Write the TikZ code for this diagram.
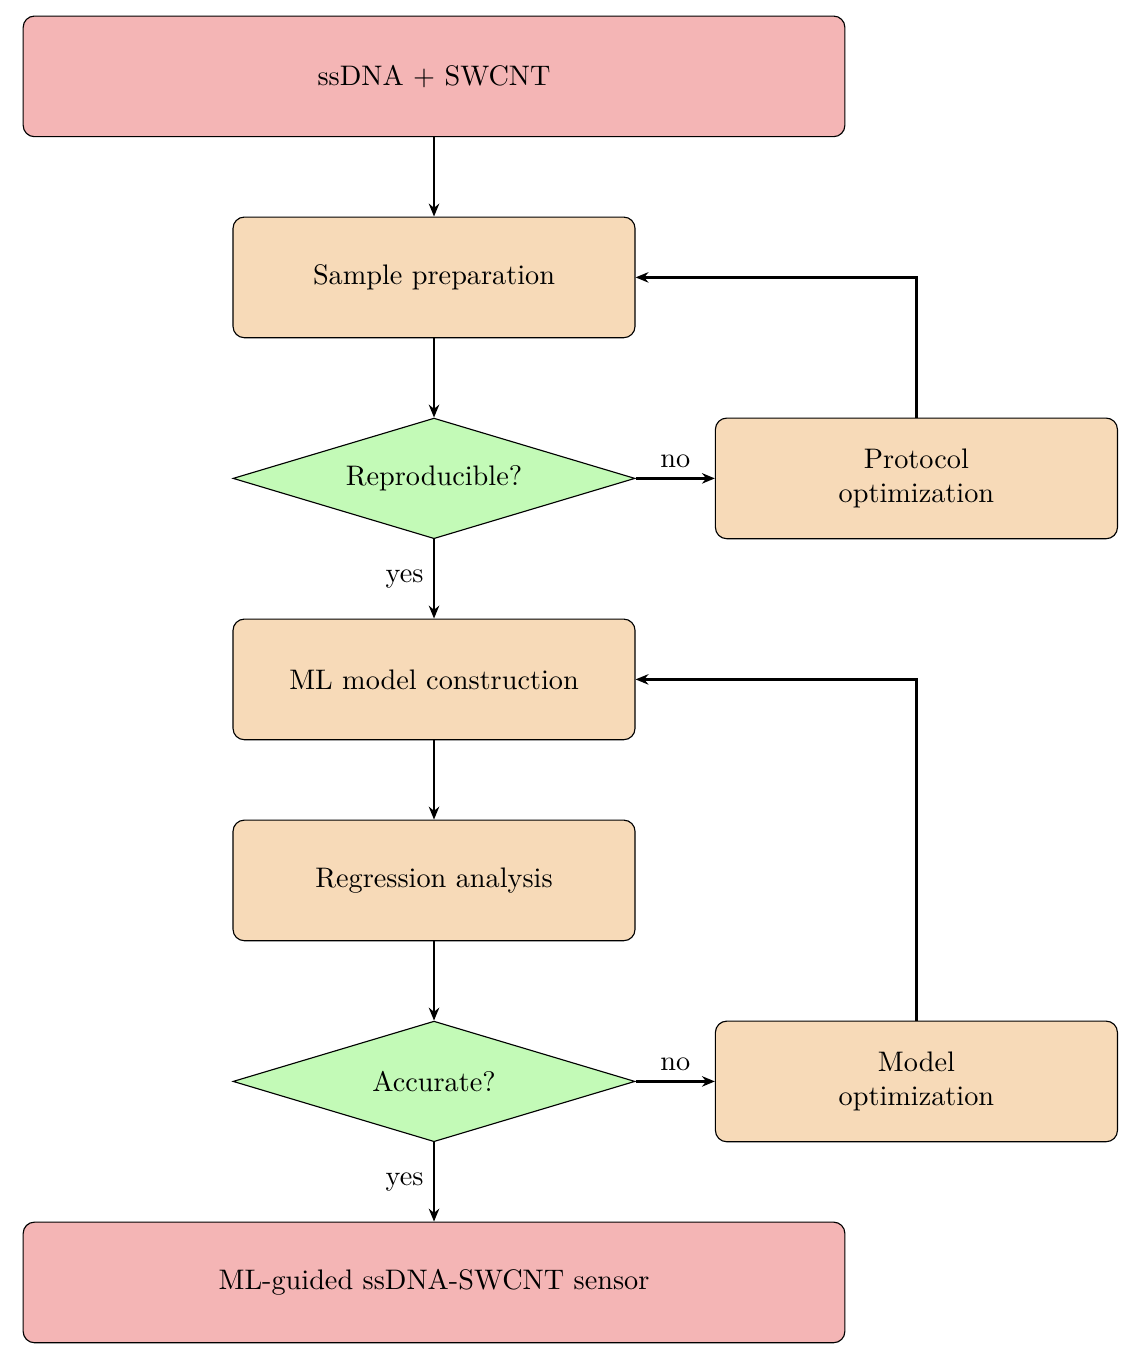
\documentclass[tikz,border=0pt]{standalone}
\usetikzlibrary{shapes.geometric,arrows.meta}
\definecolor{endred}{RGB}{244,181,181}
\definecolor{procor}{RGB}{247,218,184}
\definecolor{decgr}{RGB}{195,250,183}
\begin{document}
\begin{tikzpicture}[
  endbox/.style={draw, rounded corners=4pt, fill=endred, minimum width=10.22cm, minimum height=1.5cm, align=center},
  procbox/.style={draw, rounded corners=4pt, fill=procor, minimum width=5cm, minimum height=1.5cm, align=center},
  decbox/.style={draw, diamond, aspect=3.333, fill=decgr, minimum width=5cm, minimum height=1.5cm, inner sep=0pt, align=center},
  arr/.style={-{Stealth[length=1.6mm,width=1.3mm]}, thick},
  lbl/.style={font=\normalsize}
]
\useasboundingbox (0,0) rectangle (14.23,-16.89);
\node[endbox] (start) at (5.398,-0.95) {ssDNA + SWCNT};
\node[procbox] (prep) at (5.398,-3.45) {Sample preparation};
\node[decbox] (repro) at (5.398,-5.95) {Reproducible?};
\node[procbox] (proto) at (11.398,-5.95) {Protocol\\optimization};
\node[procbox] (ml) at (5.398,-8.45) {ML model construction};
\node[procbox] (reg) at (5.398,-10.95) {Regression analysis};
\node[decbox] (acc) at (5.398,-13.45) {Accurate?};
\node[procbox] (modopt) at (11.398,-13.45) {Model\\optimization};
\node[endbox] (final) at (5.398,-15.95) {ML-guided ssDNA-SWCNT sensor};

\draw[arr] (start) -- (prep);
\draw[arr] (prep) -- (repro);
\draw[arr] (repro) -- node[left, lbl] {yes} (ml);
\draw[arr] (repro.east) -- node[above, lbl] {no} (proto.west);
\draw[arr] (proto.north) |- (prep.east);
\draw[arr] (ml) -- (reg);
\draw[arr] (reg) -- (acc);
\draw[arr] (acc) -- node[left, lbl] {yes} (final);
\draw[arr] (acc.east) -- node[above, lbl] {no} (modopt.west);
\draw[arr] (modopt.north) |- (ml.east);
\end{tikzpicture}
\end{document}
